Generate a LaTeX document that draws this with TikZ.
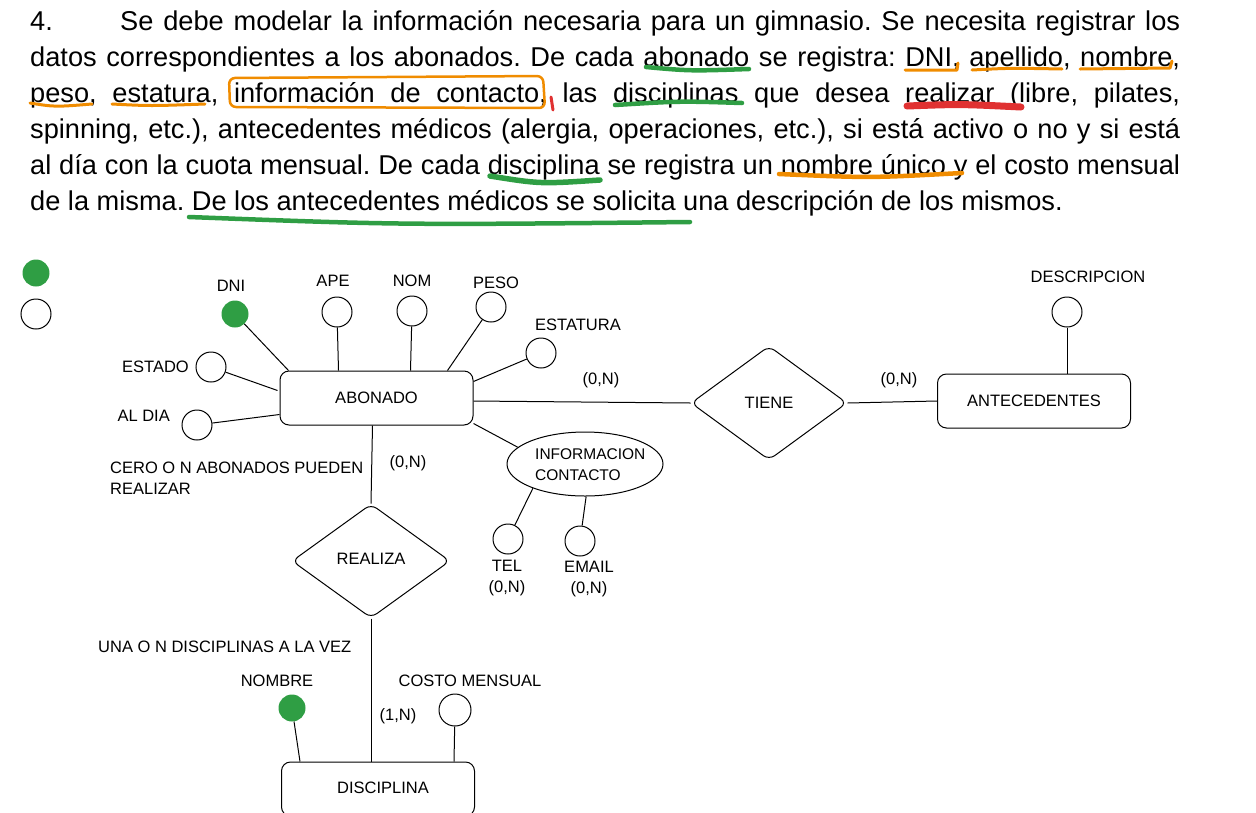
\documentclass[tikz,border=0pt]{standalone}
\usepackage{fontspec}
\setmainfont{Liberation Sans}
\usetikzlibrary{shapes.geometric,calc}
\definecolor{exgreen}{HTML}{2F9E44}
\definecolor{exorange}{HTML}{F08C00}
\definecolor{exred}{HTML}{E03131}
\frenchspacing
\begin{document}
\begin{tikzpicture}[x=1pt,y=-1pt,
  body/.style={anchor=base west, inner sep=0, font=\fontsize{27.2}{32}\selectfont},
  lbl/.style={inner sep=0, font=\fontsize{16.5}{21}\selectfont},
  attr/.style={circle, draw, line width=1pt, minimum size=30pt, inner sep=0},
  keyattr/.style={circle, fill=exgreen, minimum size=27pt, inner sep=0},
  entity/.style={draw, rounded corners=9pt, line width=1pt, minimum width=193pt, minimum height=54pt, inner sep=0, font=\fontsize{16.5}{21}\selectfont},
  rel/.style={diamond, draw, rounded corners=7pt, line width=1pt, inner sep=0, font=\fontsize{16.5}{21}\selectfont},
  conn/.style={line width=1pt},
  hl/.style={line cap=round, line join=round}
]
\useasboundingbox (0,0) rectangle (1256,812);

% ---------- statement text ----------
\node[body] (n4) at (30,30) {4.};
\node[body] (t1) at (120,30) {\makebox[1060pt][s]{Se debe modelar la información necesaria para un gimnasio. Se necesita registrar los}};
\node[body] (t2) at (30,66) {\makebox[1150pt][s]{datos correspondientes a los abonados. De cada abonado se registra: DNI, apellido, nombre,}};
\node[body] (t3) at (30,102) {\makebox[1150pt][s]{peso, estatura, información de contacto, las disciplinas que desea realizar (libre, pilates,}};
\node[body] (t4) at (30,138) {\makebox[1150pt][s]{spinning, etc.), antecedentes médicos (alergia, operaciones, etc.), si está activo o no y si está}};
\node[body] (t5) at (30,174) {\makebox[1150pt][s]{al día con la cuota mensual. De cada disciplina se registra un nombre único y el costo mensual}};
\node[body] (t6) at (30,210) {de la misma. De los antecedentes médicos se solicita una descripción de los mismos.};

% ---------- highlighter marks ----------
\draw[hl, exgreen, line width=4.5pt] (646,67) .. controls (690,71) .. (749,69);
\draw[hl, exorange, line width=3pt] (905,70) -- (957,70) -- (958,63);
\draw[hl, exorange, line width=3pt] (972,70) .. controls (1010,68) .. (1062,69);
\draw[hl, exorange, line width=3pt] (1080,69) -- (1170,68) -- (1172,61);
\draw[hl, exorange, line width=3pt] (30,103) .. controls (55,107) .. (92,104);
\draw[hl, exorange, line width=3pt] (112,104) .. controls (150,106) .. (205,104);
\draw[hl, exorange, line width=2.5pt, rounded corners=6pt] (229,78) -- (543,76) -- (545,108) -- (230,107) -- cycle;
\draw[hl, exred, line width=3pt] (551,97) -- (553,110);
\draw[hl, exgreen, line width=4.5pt] (615,105) .. controls (680,101) .. (742,103);
\draw[hl, exred, line width=7pt] (907,106) .. controls (960,104) .. (1021,107);
\draw[hl, exgreen, line width=5.5pt] (490,176) .. controls (540,184) .. (600,180);
\draw[hl, exorange, line width=4.5pt] (779,174) .. controls (870,178) .. (962,173);
\draw[hl, exgreen, line width=4.5pt] (189,217) .. controls (400,225) .. (690,222);

% ---------- legend ----------
\node[keyattr] (legkey) at (36,273) {};
\node[attr] (legattr) at (36,314) {};

% ---------- entities & relations ----------
\node[entity] (abonado) at (376.5,398) {ABONADO};
\node[entity] (antec) at (1034,401) {ANTECEDENTES};
\node[entity] (disc) at (378,789) {};
\node[lbl] (discl) at (383,788) {DISCIPLINA};
\node[rel, minimum width=156pt, minimum height=114pt] (tiene) at (769,403) {TIENE};
\node[rel, minimum width=158pt, minimum height=114pt] (realiza) at (371,561) {};
\node[lbl] (realizal) at (371,559) {REALIZA};
\node[ellipse, draw, line width=1pt, minimum width=156pt, minimum height=64pt, inner sep=0] (info) at (585,464) {};
\node[lbl, anchor=west, align=left, font=\fontsize{15.5}{21}\selectfont] (infol) at (535,465) {INFORMACION\\CONTACTO};

% ---------- attributes ----------
\node[keyattr] (dni) at (235,314) {};
\node[lbl] (dnil) at (231,286) {DNI};
\node[attr] (ape) at (337,312) {};
\node[lbl] (apel) at (333,281) {APE};
\node[attr] (nom) at (412,311) {};
\node[lbl] (noml) at (412,281) {NOM};
\node[attr] (peso) at (491,307) {};
\node[lbl] (pesol) at (496,283) {PESO};
\node[attr] (estatura) at (541,353) {};
\node[lbl] (estatural) at (578,325) {ESTATURA};
\node[attr] (estado) at (211,367) {};
\node[lbl, anchor=east] (estadol) at (189,367) {ESTADO};
\node[attr] (aldia) at (197,425) {};
\node[lbl, anchor=east] (aldial) at (170,416) {AL DIA};
\node[attr] (desc) at (1067,312) {};
\node[lbl] (descl) at (1088,277) {DESCRIPCION};
\node[attr] (tel) at (508,539) {};
\node[lbl, align=center] (tell) at (507,578) {TEL\\(0,N)};
\node[attr] (email) at (580,541) {};
\node[lbl, align=center] (emaill) at (589,579) {EMAIL\\(0,N)};
\node[keyattr] (nombre) at (292,708) {};
\node[lbl] (nombrel) at (277,681) {NOMBRE};
\node[attr, minimum size=32pt] (costo) at (455,710) {};
\node[lbl] (costol) at (470,681) {COSTO MENSUAL};

% ---------- cardinalities & notes ----------
\node[lbl] (c1) at (601,380) {(0,N)};
\node[lbl] (c2) at (899,380) {(0,N)};
\node[lbl] (c3) at (408,463) {(0,N)};
\node[lbl] (c4) at (398,716) {(1,N)};
\node[lbl, anchor=west, align=left] (note1) at (110,478) {CERO O N ABONADOS PUEDEN\\REALIZAR};
\node[lbl, anchor=west] (note2) at (98,647) {UNA O N DISCIPLINAS A LA VEZ};

% ---------- connectors ----------
\draw[conn] (dni) -- ($(abonado.north west)+(9,0)$);
\draw[conn] (ape) -- ($(abonado.north west)+(59,0)$);
\draw[conn] (nom) -- ($(abonado.north west)+(131,0)$);
\draw[conn] (peso) -- ($(abonado.north west)+(168,0)$);
\draw[conn] (estatura) -- ($(abonado.north east)+(0,11)$);
\draw[conn] (estado) -- ($(abonado.north west)+(-2,20)$);
\draw[conn] (aldia) -- ($(abonado.south west)+(0,-11)$);
\draw[conn] ($(abonado.east)+(0,3)$) -- (tiene.west);
\draw[conn] (tiene.east) -- (antec.west);
\draw[conn] (desc) -- (desc |- antec.north);
\draw[conn] ($(abonado.south east)+(0,-2)$) -- (info.166);
\draw[conn] (info.205) -- (tel);
\draw[conn] (info.272) -- (email);
\draw[conn] ($(abonado.south)+(-4,0)$) -- (realiza.north);
\draw[conn] (realiza.south) -- (realiza.south |- disc.north);
\draw[conn] (nombre) -- ($(disc.north west)+(19,0)$);
\draw[conn] (costo) -- ($(disc.north east)+(-21,0)$);
\end{tikzpicture}
\end{document}
